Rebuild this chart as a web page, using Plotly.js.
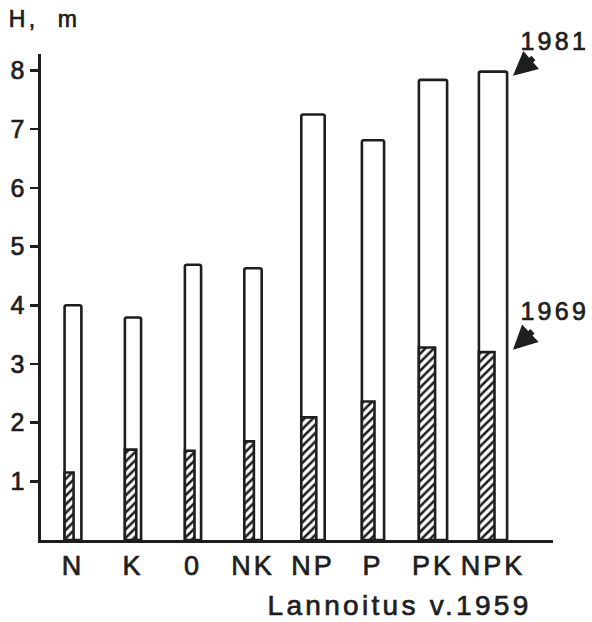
<!DOCTYPE html>
<html>
<head>
<meta charset="utf-8">
<script src="https://cdn.plot.ly/plotly-3.0.1.min.js"></script>
<style>
  html, body { margin: 0; padding: 0; background: #fff; }
  #chart { width: 592px; height: 622px; }
  /* slightly heavier lettering with wide tracking, like the printed figure */
  #chart .main-svg text { stroke: #1e1e1e; stroke-width: 0.7px; }
  #chart .xtick text { letter-spacing: 3px; }
  #chart text.annotation-text { letter-spacing: 3.3px; }
</style>
</head>
<body>
<div id="chart"></div>
<script>
// Tree height (m) per fertilisation treatment, fertilised in 1959
const treatments = ['N', 'K', '0', 'NK', 'NP', 'P', 'PK', 'NPK'];
const height1981 = [4.0, 3.79, 4.69, 4.63, 7.25, 6.81, 7.84, 7.98];
const height1969 = [1.15, 1.54, 1.52, 1.68, 2.09, 2.36, 3.28, 3.20];
const yTicks = [1, 2, 3, 4, 5, 6, 7, 8];

// Bar geometry (category units): outer column width and the hatched column width
const outerW = [0.28, 0.27, 0.27, 0.29, 0.39, 0.37, 0.47, 0.47];
const innerW = [0.15, 0.19, 0.16, 0.16, 0.25, 0.21, 0.27, 0.26];
const innerOffset = outerW.map(w => -w / 2);

const ink = '#1e1e1e';
const font = 'Liberation Sans, Arial, Helvetica, sans-serif';

const traces = [
  {
    type: 'bar',
    name: '1981',
    x: treatments,
    y: height1981,
    width: outerW,
    marker: { color: '#ffffff', line: { color: ink, width: 2.6 }, cornerradius: 2 },
    hoverinfo: 'x+y'
  },
  {
    type: 'bar',
    name: '1969',
    x: treatments,
    y: height1969,
    width: innerW,
    offset: innerOffset,
    marker: {
      color: '#ffffff',
      line: { color: ink, width: 2.6 },
      pattern: { shape: '/', size: 6, solidity: 0.42, fgcolor: ink, bgcolor: '#ffffff' }
    },
    hoverinfo: 'x+y'
  }
];

const layout = {
  width: 592,
  height: 622,
  margin: { l: 41, r: 39, t: 54, b: 82 },
  paper_bgcolor: '#ffffff',
  plot_bgcolor: '#ffffff',
  barmode: 'overlay',
  showlegend: false,
  font: { family: font, color: ink },
  xaxis: {
    type: 'category',
    range: [-0.533, 8.0],
    showline: true,
    linecolor: ink,
    linewidth: 2.6,
    showgrid: false,
    zeroline: false,
    ticks: '',
    tickfont: { size: 27, family: font, color: ink },
    ticklabelstandoff: 0
  },
  yaxis: {
    range: [0, 8.28],
    tickvals: yTicks,
    ticktext: yTicks.map(String),
    showline: true,
    linecolor: ink,
    linewidth: 2.6,
    ticks: 'outside',
    ticklen: 8,
    tickwidth: 2.6,
    tickcolor: ink,
    showgrid: false,
    zeroline: false,
    tickfont: { size: 25, family: font, color: ink },
    ticklabelstandoff: 1
  },
  annotations: [
    { text: 'H,\u00A0 m', xref: 'paper', yref: 'paper', x: -0.051, y: 1.072, xanchor: 'left', yanchor: 'middle',
      showarrow: false, font: { size: 23, family: font, color: ink } },
    { text: 'Lannoitus v.1959', xref: 'paper', yref: 'paper', x: 0.49, y: -0.134, xanchor: 'left', yanchor: 'middle',
      showarrow: false, font: { size: 28, family: font, color: ink } },
    { text: '1981', xref: 'paper', yref: 'paper', x: 1.003, y: 1.027, xanchor: 'center', yanchor: 'middle',
      showarrow: false, font: { size: 25, family: font, color: ink } },
    { text: '1969', xref: 'paper', yref: 'paper', x: 1.004, y: 0.472, xanchor: 'center', yanchor: 'middle',
      showarrow: false, font: { size: 25, family: font, color: ink } },
    { text: '', xref: 'x', yref: 'y', x: 7.333, y: 7.91, ax: 22, ay: -19,
      showarrow: true, arrowhead: 2, arrowsize: 0.8, arrowwidth: 6, arrowcolor: ink },
    { text: '', xref: 'x', yref: 'y', x: 7.333, y: 3.24, ax: 21, ay: -20,
      showarrow: true, arrowhead: 2, arrowsize: 0.8, arrowwidth: 6, arrowcolor: ink }
  ]
};

Plotly.newPlot('chart', traces, layout, { staticPlot: true, displayModeBar: false });
</script>
</body>
</html>
